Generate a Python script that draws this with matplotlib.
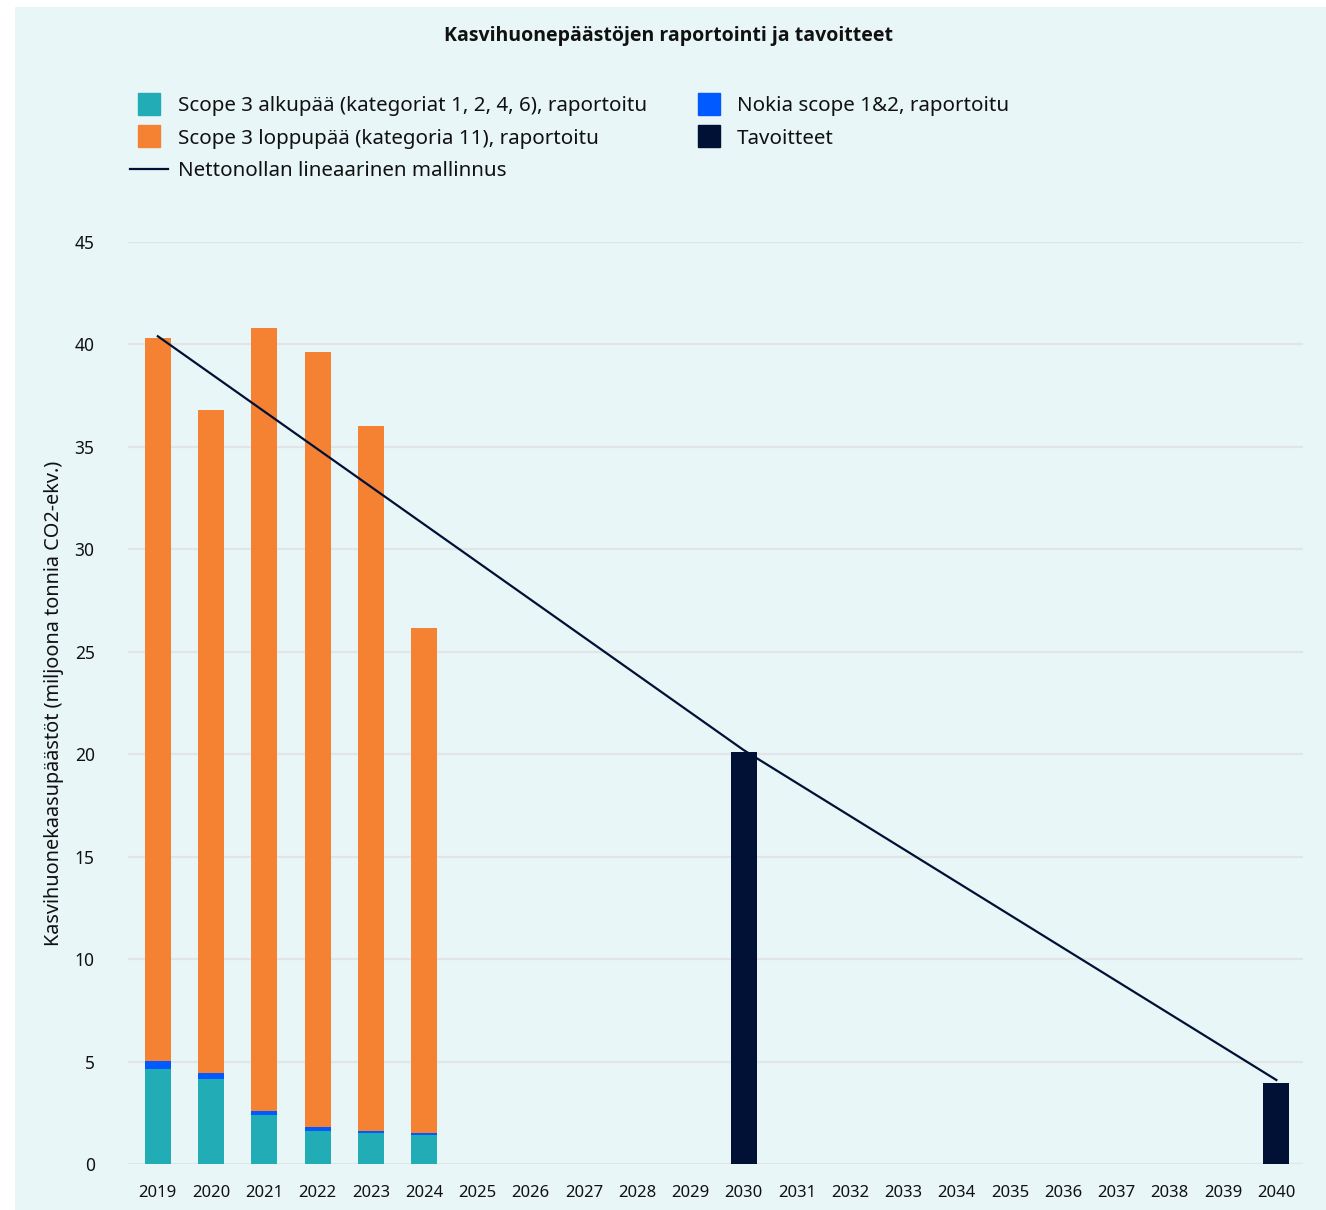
import matplotlib.pyplot as plt
import numpy as np
from matplotlib.lines import Line2D
from matplotlib.patches import Rectangle

plt.rcParams['font.family'] = ['Noto Sans', 'DejaVu Sans']

# data (million tonnes CO2e)
years = [str(y) for y in range(2019, 2041)]
reported_years = ['2019', '2020', '2021', '2022', '2023', '2024']
upstream = [4.62, 4.15, 2.40, 1.61, 1.51, 1.42]
scope12 = [0.40, 0.30, 0.20, 0.20, 0.10, 0.09]
downstream = [35.3, 32.35, 38.2, 37.8, 34.4, 24.65]
target_years = ['2030', '2040']
targets = [20.1, 3.95]
path_years = ['2019', '2030', '2040']
path_vals = [40.4, 20.2, 4.1]

c_teal = '#22adb6'
c_orange = '#f58233'
c_blue = '#005aff'
c_navy = '#001135'
bg = '#e8f6f7'

fig = plt.figure(figsize=(13.26, 12.10), dpi=100)
fig.patch.set_facecolor('white')
fig.patches.append(Rectangle((15 / 1326, 0), 1 - 15 / 1326, 1 - 7 / 1210,
                             transform=fig.transFigure, facecolor=bg,
                             edgecolor='none', zorder=-10))

ax = fig.add_axes([128 / 1326, 46 / 1210, (1303 - 128) / 1326, 922 / 1210])
ax.set_facecolor(bg)

pos = {y: i for i, y in enumerate(years)}
xr = np.array([pos[y] for y in reported_years])
xt = np.array([pos[y] for y in target_years])
xp = np.array([pos[y] for y in path_years])
w = 0.49

up = np.array(upstream)
s12 = np.array(scope12)
ax.bar(xr, up, w, color=c_teal, zorder=3)
ax.bar(xr, s12, w, bottom=up, color=c_blue, zorder=3)
ax.bar(xr, downstream, w, bottom=up + s12, color=c_orange, zorder=3)
ax.bar(xt, targets, w, color=c_navy, zorder=3)
ax.plot(xp, path_vals, color=c_navy, lw=1.6, zorder=4)

ax.set_xlim(-0.56, 21.5)
ax.set_ylim(0, 45)
ax.set_yticks(range(0, 46, 5))
ax.set_xticks(range(len(years)))
ax.set_xticklabels(years)
ax.grid(axis='y', color='#e2e4e6', lw=1.6, zorder=0)
ax.set_axisbelow(True)
for s in ax.spines.values():
    s.set_visible(False)
ax.tick_params(axis='both', length=0, labelsize=12, colors='#111111')
ax.tick_params(axis='y', pad=24, labelsize=12.5)
ax.tick_params(axis='x', pad=15)
ax.set_ylabel('Kasvihuonekaasupäästöt (miljoona tonnia CO2-ekv.)',
              fontsize=14.3, color='#111111', labelpad=8)

fig.text(668 / 1326, 1 - 36 / 1210, 'Kasvihuonepäästöjen raportointi ja tavoitteet',
         ha='center', va='center', fontsize=14, fontweight='bold',
         family=['Open Sans', 'DejaVu Sans'], color='#111111')

handles = [
    Line2D([], [], ls='none', marker='s', ms=16, color=c_teal),
    Line2D([], [], ls='none', marker='s', ms=16, color=c_orange),
    Line2D([], [], color=c_navy, lw=1.6),
    Line2D([], [], ls='none', marker='s', ms=16, color=c_blue),
    Line2D([], [], ls='none', marker='s', ms=16, color=c_navy),
]
labels = [
    'Scope 3 alkupää (kategoriat 1, 2, 4, 6), raportoitu',
    'Scope 3 loppupää (kategoria 11), raportoitu',
    'Nettonollan lineaarinen mallinnus',
    'Nokia scope 1&2, raportoitu',
    'Tavoitteet',
]
fig.legend(handles, labels, ncol=2, loc='upper left',
           bbox_to_anchor=(122 / 1326, 1 - 88 / 1210), frameon=False,
           fontsize=14.8, handlelength=1.85, handletextpad=0.45,
           labelspacing=0.6, columnspacing=2.1, borderaxespad=0,
           labelcolor='#111111')

fig.savefig('out.png', dpi=100, facecolor=fig.get_facecolor())
